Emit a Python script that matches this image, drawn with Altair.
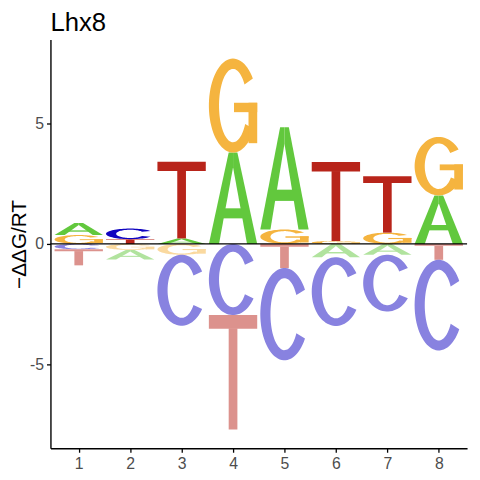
import math
import altair as alt
import pandas as pd

# ---- data ----
positions = [1, 2, 3, 4, 5, 6, 7, 8]
val_A = [0.50, -0.40, 0.23, 3.80, 4.25, -0.55, -0.45, 2.02]
val_C = [-0.22, 0.44, -2.95, -2.96, -3.84, -2.86, -2.36, -3.77]
val_G = [0.37, -0.25, -0.45, 3.91, 0.60, 0.12, 0.47, 2.43]
val_T = [-0.67, 0.20, 3.19, -4.76, -1.00, 3.29, 2.35, -0.66]
letters = ["A", "C", "G", "T"]
values = {"A": val_A, "C": val_C, "G": val_G, "T": val_T}

pos_colors = {"A": "#62C83D", "C": "#1004C0", "G": "#F5B43F", "T": "#B8241A"}
neg_colors = {"A": "#B1E39E", "C": "#8882E0", "G": "#FAD99F", "T": "#DC928D"}

LETTER_W = 0.94


# ---- glyph templates in a unit box (shapes only) ----
def ring(t0, t1, n=64, sx=0.21, sy=0.11):
    outer, inner = [], []
    for i in range(n + 1):
        t = math.radians(t0 + (t1 - t0) * i / n)
        outer.append((0.5 + 0.5 * math.cos(t), 0.5 + 0.5 * math.sin(t)))
        inner.append((0.5 + (0.5 - sx) * math.cos(t), 0.5 + (0.5 - sy) * math.sin(t)))
    return outer + inner[::-1]


GLYPHS = {
    "A": [
        [(0, 0), (0.21, 0), (0.5, 0.84), (0.5, 1), (0.41, 1)],
        [(1, 0), (0.79, 0), (0.5, 0.84), (0.5, 1), (0.59, 1)],
        [(0.2, 0.28), (0.8, 0.28), (0.8, 0.39), (0.2, 0.39)],
    ],
    "T": [
        [(0, 0.88), (1, 0.88), (1, 1), (0, 1)],
        [(0.41, 0), (0.59, 0), (0.59, 0.885), (0.41, 0.885)],
    ],
    "C": [ring(32, 328)],
    "G": [
        ring(35, 330),
        [(0.82, 0.1), (1.0, 0.1), (1.0, 0.53), (0.82, 0.53)],
        [(0.52, 0.43), (1.0, 0.43), (1.0, 0.53), (0.52, 0.53)],
    ],
}

# ---- build polygon table from the letter values ----
rows = []
pid = 0
for i, p in enumerate(positions):
    items = [(L, values[L][i]) for L in letters]
    pos_items = sorted([t for t in items if t[1] > 0], key=lambda t: t[1])
    neg_items = sorted([t for t in items if t[1] < 0], key=lambda t: -t[1])
    stacks = []
    base = 0.0
    for L, v in pos_items:
        stacks.append((L, base, v, pos_colors[L]))
        base += v
    base = 0.0
    for L, v in neg_items:
        h = -v
        stacks.append((L, base - h, h, neg_colors[L]))
        base -= h
    for L, y0, h, col in stacks:
        for poly in GLYPHS[L]:
            for k, (gx, gy) in enumerate(poly):
                rows.append({
                    "px": p + (gx - 0.5) * LETTER_W,
                    "py": y0 + gy * h,
                    "pid": pid,
                    "k": k,
                    "col": col,
                })
            pid += 1

df = pd.DataFrame(rows)

FONT = "Liberation Sans"
PLOT_W, PLOT_H = 422, 414

xscale = alt.Scale(domain=[0.45, 8.55], nice=False, zero=False)
yscale = alt.Scale(domain=[-8.5, 8.5], nice=False, zero=False)

logo = alt.Chart(df).mark_line(
    filled=True, interpolate="linear-closed", strokeWidth=0
).encode(
    x=alt.X("px:Q", scale=xscale,
            axis=alt.Axis(values=positions, title=None, grid=False,
                          labelFontSize=16, labelColor="#4D4D4D", labelFont=FONT,
                          labelPadding=3, tickSize=4, tickColor="black", tickWidth=1.3,
                          domainColor="black", domainWidth=1.4, format="d")),
    y=alt.Y("py:Q", scale=yscale,
            axis=alt.Axis(values=[-5, 0, 5], title="−ΔΔG/RT", grid=False,
                          labelExpr="'' + datum.value",
                          labelFontSize=16, labelColor="#4D4D4D", labelFont=FONT,
                          labelPadding=3, tickSize=4, tickColor="black", tickWidth=1.3,
                          domainColor="black", domainWidth=1.4,
                          titleFont=FONT, titleFontSize=21, titleFontWeight="normal",
                          titleColor="black", titleAngle=270, titleAlign="center",
                          titleBaseline="alphabetic", titleX=-25, titleY=PLOT_H / 2)),
    detail="pid:N",
    order="k:Q",
    color=alt.Color("col:N", scale=None),
)

zero = alt.Chart(pd.DataFrame({"y": [0]})).mark_rule(color="black", strokeWidth=1.2).encode(
    y=alt.Y("y:Q", scale=yscale)
)

chart = (logo + zero).properties(
    width=PLOT_W, height=PLOT_H,
    title=alt.TitleParams("Lhx8", anchor="start", fontSize=26, font=FONT,
                          fontWeight="normal", color="black", offset=4,
                          frame="group"),
    autosize=alt.AutoSizeParams(type="none"),
    padding={"left": 43, "top": 29, "right": 5, "bottom": 20},
).configure_view(stroke=None)

chart.save("out.html", embed_options={"renderer": "svg", "actions": False})
